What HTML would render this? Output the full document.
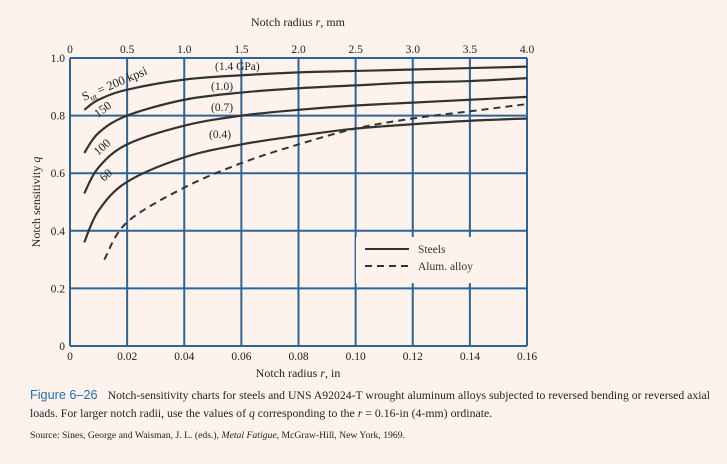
<!DOCTYPE html>
<html><head><meta charset="utf-8"><style>
body{margin:0;background:#fdf3ec;}
svg{display:block;font-family:"Liberation Serif",serif;}
</style></head><body>
<svg width="727" height="464" viewBox="0 0 727 464">
<rect width="727" height="464" fill="#fdf3ec"/>
<g id="grid"></g>
<rect x="356" y="237" width="168" height="46" fill="#fdf3ec"/>
<g id="curves"></g>
<g id="labels" font-size="11.5" fill="#222"></g>
<g>
<line x1="365" y1="249" x2="409" y2="249" stroke="#333" stroke-width="2"/>
<text x="418" y="253" font-size="11.5" fill="#333">Steels</text>
<line x1="365" y1="266" x2="409" y2="266" stroke="#333" stroke-width="2" stroke-dasharray="7,5"/>
<text x="418" y="270" font-size="11.5" fill="#333">Alum. alloy</text>
</g>
<text x="298" y="26" font-size="12" text-anchor="middle" fill="#222">Notch radius <tspan font-style="italic">r</tspan>, mm</text>
<text x="298" y="377" font-size="12" text-anchor="middle" fill="#222">Notch radius <tspan font-style="italic">r</tspan>, in</text>
<text transform="translate(40,202) rotate(-90)" font-size="12" text-anchor="middle" fill="#222">Notch sensitivity <tspan font-style="italic">q</tspan></text>
<text x="84" y="101" font-size="12.5" fill="#222" transform="rotate(-23 84 101)">S<tspan font-size="8.5" dy="3">ut</tspan><tspan dy="-3"> = 200 kpsi</tspan></text>
<text x="98" y="118" font-size="12" fill="#222" transform="rotate(-38 98 118)">150</text>
<text x="98" y="156" font-size="12" fill="#222" transform="rotate(-42 98 156)">100</text>
<text x="104" y="182" font-size="12" fill="#222" transform="rotate(-42 104 182)">60</text>
<text x="215" y="70" font-size="11.5" fill="#222">(1.4 GPa)</text>
<text x="211" y="90" font-size="11.5" fill="#222">(1.0)</text>
<text x="211" y="111" font-size="11.5" fill="#222">(0.7)</text>
<text x="209" y="138" font-size="11.5" fill="#222">(0.4)</text>
<text x="30" y="399" font-size="11.6" textLength="680" lengthAdjust="spacingAndGlyphs"><tspan font-family="Liberation Sans,sans-serif" fill="#1f6fb5" font-size="12.5">Figure 6–26</tspan><tspan dx="10" fill="#222">Notch-sensitivity charts for steels and UNS A92024-T wrought aluminum alloys subjected to reversed bending or reversed axial</tspan></text>
<text x="30" y="417" font-size="11.8" fill="#222">loads. For larger notch radii, use the values of <tspan font-style="italic">q</tspan> corresponding to the <tspan font-style="italic">r</tspan> = 0.16-in (4-mm) ordinate.</text>
<text x="30" y="438" font-size="9.7" fill="#222">Source: Sines, George and Waisman, J. L. (eds.), <tspan font-style="italic">Metal Fatigue,</tspan> McGraw-Hill, New York, 1969.</text>
</svg>
<script>
const xTicks=[0,0.02,0.04,0.06,0.08,0.10,0.12,0.14,0.16];
const xTickLabels=["0","0.02","0.04","0.06","0.08","0.10","0.12","0.14","0.16"];
const mmTickLabels=["0","0.5","1.0","1.5","2.0","2.5","3.0","3.5","4.0"];
const yTicks=[0,0.2,0.4,0.6,0.8,1.0];
const yTickLabels=["0","0.2","0.4","0.6","0.8","1.0"];
const rSteel=[0.005,0.01,0.02,0.04,0.06,0.08,0.10,0.12,0.14,0.16];
const q200=[0.82,0.855,0.89,0.925,0.94,0.95,0.955,0.96,0.965,0.97];
const q150=[0.67,0.74,0.80,0.855,0.88,0.895,0.905,0.915,0.92,0.93];
const q100=[0.53,0.62,0.70,0.765,0.80,0.82,0.835,0.845,0.855,0.865];
const q60=[0.36,0.47,0.57,0.655,0.70,0.73,0.755,0.77,0.782,0.79];
const rAlum=[0.012,0.02,0.04,0.06,0.08,0.10,0.12,0.14,0.16];
const qAlum=[0.30,0.43,0.55,0.635,0.70,0.755,0.79,0.815,0.84];
const X=r=>70+r/0.16*457, Y=q=>346-q*288;
const NS="http://www.w3.org/2000/svg";
const grid=document.getElementById('grid'), labels=document.getElementById('labels'), curves=document.getElementById('curves');
function mk(tag,attrs,parent){const e=document.createElementNS(NS,tag);for(const k in attrs)e.setAttribute(k,attrs[k]);parent.appendChild(e);return e;}
xTicks.forEach((t,i)=>{
  const l=mk('line',{x1:X(t),y1:Y(1),x2:X(t),y2:Y(0),stroke:'#2d6496','stroke-width':2},grid);
  
  
  const a=mk('text',{x:X(t),y:360,'text-anchor':'middle'},labels);a.textContent=xTickLabels[i];
  
  
  const b=mk('text',{x:X(t),y:53,'text-anchor':'middle'},labels);b.textContent=mmTickLabels[i];
  
  
});
yTicks.forEach((t,i)=>{
  const l=mk('line',{x1:X(0),y1:Y(t),x2:X(0.16),y2:Y(t),stroke:'#2d6496','stroke-width':2},grid);
  
  
  const a=mk('text',{x:X(0)-5,y:Y(t)+4,'text-anchor':'end'},labels);a.textContent=yTickLabels[i];
  
  
});
function path(rs,qs){
  const p=rs.map((r,i)=>[X(r),Y(qs[i])]);let d=`M${p[0][0]},${p[0][1]}`;
  for(let i=0;i<p.length-1;i++){const p0=p[Math.max(0,i-1)],p1=p[i],p2=p[i+1],p3=p[Math.min(p.length-1,i+2)];
    d+=` C${p1[0]+(p2[0]-p0[0])/6},${p1[1]+(p2[1]-p0[1])/6} ${p2[0]-(p3[0]-p1[0])/6},${p2[1]-(p3[1]-p1[1])/6} ${p2[0]},${p2[1]}`;}
  return d;}
[[q200,'curve-200-kpsi'],[q150,'curve-150-kpsi'],[q100,'curve-100-kpsi'],[q60,'curve-60-kpsi']].forEach(([qs,n])=>{
  const e=mk('path',{d:path(rSteel,qs),fill:'none',stroke:'#333','stroke-width':2.2},curves);
  
  
});
const al=mk('path',{d:path(rAlum,qAlum),fill:'none',stroke:'#333','stroke-width':2,'stroke-dasharray':'7,5'},curves);


</script>
</body></html>
